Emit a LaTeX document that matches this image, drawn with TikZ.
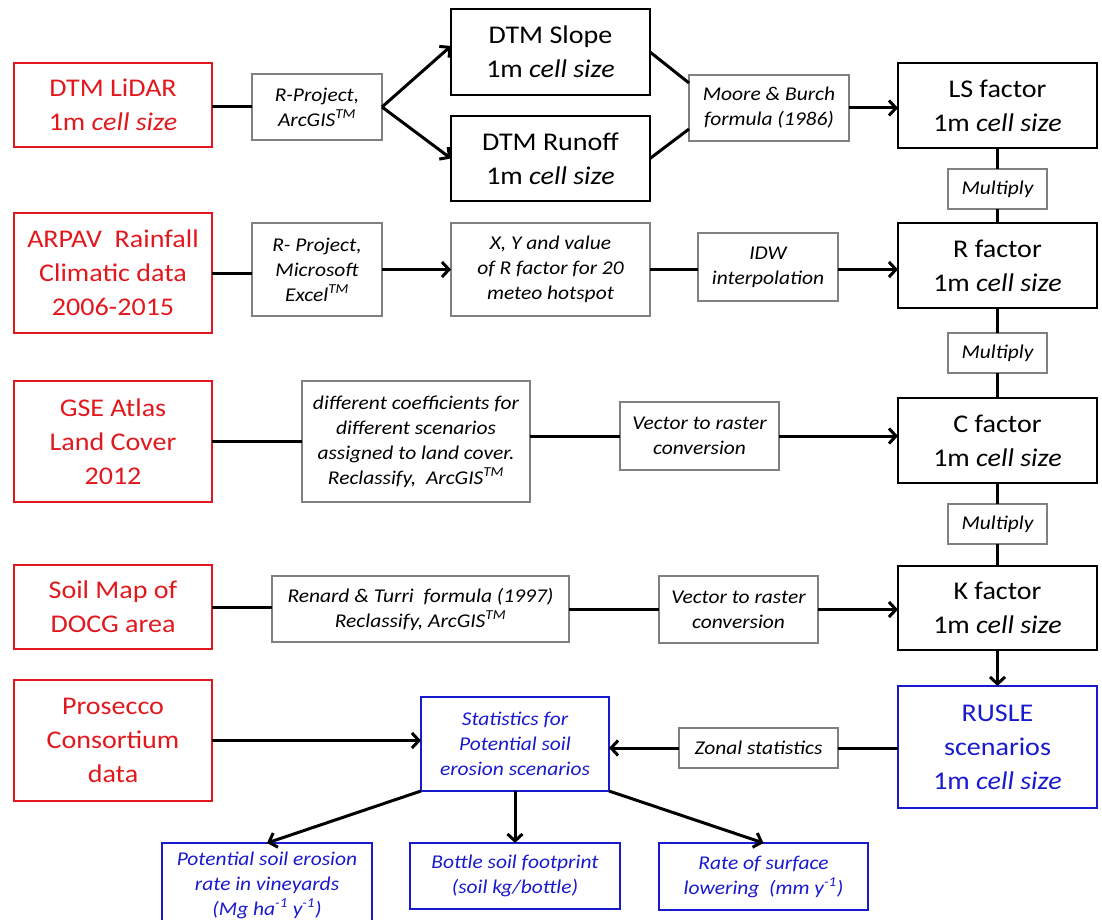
\documentclass[tikz,border=0pt]{standalone}
\usepackage{fontspec}
\setmainfont{Carlito}[FakeStretch=1.1]
\usetikzlibrary{arrows.meta}
\definecolor{srcred}{RGB}{225,25,30}
\definecolor{outblue}{RGB}{25,25,205}
\definecolor{procgray}{RGB}{128,128,128}
\tikzset{
  base/.style={rectangle, align=center, inner sep=0pt, outer sep=0pt},
  bigtxt/.style={font=\fontsize{25.5}{34}\selectfont},
  smalltxt/.style={font=\fontsize{19.5}{25}\selectfont\itshape},
  srcbox/.style={base, bigtxt, draw=srcred, line width=1.5pt, text=srcred},
  mainbox/.style={base, bigtxt, draw=black, line width=1.5pt},
  procbox/.style={base, smalltxt, draw=procgray, line width=1.2pt},
  outbox/.style={base, smalltxt, draw=outblue, line width=1.5pt, text=outblue},
  rusbox/.style={base, bigtxt, draw=outblue, line width=1.5pt, text=outblue},
  conn/.style={line width=3pt},
  arrowline/.style={line width=3pt, -{Straight Barb[length=7pt,width=15pt]}},
}
\begin{document}
\begin{tikzpicture}[x=1pt,y=-1pt]
\useasboundingbox (0,0) rectangle (1102,920);
% sources
\node[srcbox, minimum width=198, minimum height=84] (src1) at (113,105) {DTM LiDAR\\1m \textit{cell size}};
\node[srcbox, minimum width=198, minimum height=120] (src2) at (113,273) {ARPAV~ Rainfall\\Climatic data\\2006-2015};
\node[srcbox, minimum width=198, minimum height=121] (src3) at (113,441.5) {GSE Atlas\\Land Cover\\2012};
\node[srcbox, minimum width=198, minimum height=84] (src4) at (113,607) {Soil Map of\\DOCG area};
\node[srcbox, minimum width=198, minimum height=121] (src5) at (113,740.5) {Prosecco\\Consortium\\data};
% row 1
\node[procbox, minimum width=130, minimum height=66] (p1) at (317,107) {R-Project,\\ArcGIS\textsuperscript{TM}};
\node[mainbox, minimum width=199, minimum height=86] (slope) at (550.5,52) {DTM Slope\\1m \textit{cell size}};
\node[mainbox, minimum width=199, minimum height=85] (runoff) at (550.5,158.5) {DTM Runoff\\1m \textit{cell size}};
\node[procbox, minimum width=160, minimum height=66] (moore) at (769,108) {Moore \& Burch\\formula (1986)};
\node[mainbox, minimum width=199, minimum height=85] (LS) at (997.5,105.5) {LS factor\\1m \textit{cell size}};
\node[procbox, minimum width=99, minimum height=40] (mult1) at (997.5,189) {Multiply};
% row 2
\node[procbox, minimum width=130, minimum height=93] (p2) at (317,269.5) {R- Project,\\Microsoft\\Excel\textsuperscript{TM}};
\node[procbox, minimum width=199, minimum height=93] (xy) at (550.5,269.5) {X, Y and value\\of R factor for 20\\meteo hotspot};
\node[procbox, minimum width=140, minimum height=68] (idw) at (768,267) {IDW\\interpolation};
\node[mainbox, minimum width=199, minimum height=85] (R) at (997.5,265.5) {R factor\\1m \textit{cell size}};
\node[procbox, minimum width=99, minimum height=40] (mult2) at (997.5,353) {Multiply};
% row 3
\node[procbox, minimum width=228, minimum height=121] (coeff) at (416,441.5) {different coefficients for\\different scenarios\\assigned to land cover.\\Reclassify,~ ArcGIS\textsuperscript{TM}};
\node[procbox, minimum width=159, minimum height=68] (vec1) at (699.5,436) {Vector to raster\\conversion};
\node[mainbox, minimum width=199, minimum height=85] (C) at (997.5,440.5) {C factor\\1m \textit{cell size}};
\node[procbox, minimum width=99, minimum height=40] (mult3) at (997.5,524) {Multiply};
% row 4
\node[procbox, minimum width=297, minimum height=66] (renard) at (420.5,609) {Renard \& Turri~ formula (1997)\\Reclassify, ArcGIS\textsuperscript{TM}};
\node[procbox, minimum width=159, minimum height=67] (vec2) at (738.5,609.5) {Vector to raster\\conversion};
\node[mainbox, minimum width=199, minimum height=84] (K) at (997.5,608) {K factor\\1m \textit{cell size}};
% row 5
\node[rusbox, minimum width=199, minimum height=122] (rusle) at (997.5,747) {RUSLE\\scenarios\\1m \textit{cell size}};
\node[procbox, minimum width=159, minimum height=40] (zonal) at (758.5,748) {Zonal statistics};
\node[outbox, minimum width=188, minimum height=94] (stats) at (515,744) {Statistics for\\Potential soil\\erosion scenarios};
% outputs
\node[outbox, minimum width=210, minimum height=84] (out1) at (267,885) {Potential soil erosion\\rate in vineyards\\(Mg ha\textsuperscript{-1} y\textsuperscript{-1})};
\node[outbox, minimum width=210, minimum height=66] (out2) at (515,876) {Bottle soil footprint\\(soil kg/bottle)};
\node[outbox, minimum width=209, minimum height=67] (out3) at (763.5,876.5) {Rate of surface\\lowering~ (mm y\textsuperscript{-1})};
% connectors row 1
\draw[conn] (src1.east |- p1.west) -- (p1.west);
\draw[arrowline] (p1.east) -- ([yshift=6pt]slope.west);
\draw[arrowline] (p1.east) -- (runoff.west);
\draw[conn] (slope.east) -- ([yshift=25pt]moore.west);
\draw[conn] (runoff.east) -- ([yshift=-21pt]moore.west);
\draw[arrowline] (moore.east) -- (moore.east -| LS.west);
% vertical chain
\draw[conn] (LS.south) -- (mult1.north);
\draw[conn] (mult1.south) -- (R.north);
\draw[conn] (R.south) -- (mult2.north);
\draw[conn] (mult2.south) -- (C.north);
\draw[conn] (C.south) -- (mult3.north);
\draw[conn] (mult3.south) -- (K.north);
\draw[arrowline] (K.south) -- (rusle.north);
% row 2
\draw[conn] (src2.east) -- (src2.east -| p2.west);
\draw[arrowline] (p2.east) -- (xy.west);
\draw[conn] (xy.east) -- (xy.east -| idw.west);
\draw[arrowline] (idw.east |- xy.east) -- (R.west |- xy.east);
% row 3
\draw[conn] (src3.east) -- (coeff.west);
\draw[conn] (coeff.east |- vec1.west) -- (vec1.west);
\draw[arrowline] (vec1.east) -- (vec1.east -| C.west);
% row 4
\draw[conn] (src4.east) -- (src4.east -| renard.west);
\draw[conn] (renard.east) -- (renard.east -| vec2.west);
\draw[arrowline] (vec2.east) -- (vec2.east -| K.west);
% row 5
\draw[arrowline] (src5.east) -- (src5.east -| stats.west);
\draw[conn] (rusle.west |- zonal.east) -- (zonal.east);
\draw[arrowline] (zonal.west) -- (zonal.west -| stats.east);
\draw[arrowline] (stats.south west) -- (out1.north);
\draw[arrowline] (stats.south) -- (out2.north);
\draw[arrowline] (stats.south east) -- (out3.north);
\end{tikzpicture}
\end{document}
